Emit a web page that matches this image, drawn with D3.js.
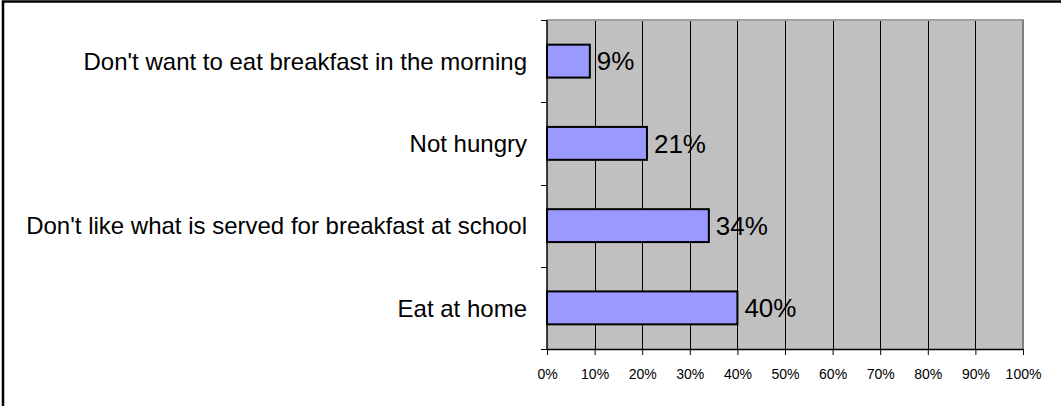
<!DOCTYPE html>
<html>
<head>
<meta charset="utf-8">
<script src="https://cdn.jsdelivr.net/npm/d3@7"></script>
<style>
  html, body { margin: 0; padding: 0; background: #fff; }
  svg { display: block; font-family: "Liberation Sans", Arial, sans-serif; }
</style>
</head>
<body>
<svg id="chart" width="1061" height="406"></svg>
<script>
// Reasons for not eating breakfast at school (top to bottom)
const categories = [
  "Don't want to eat breakfast in the morning",
  "Not hungry",
  "Don't like what is served for breakfast at school",
  "Eat at home"
];
const values = [9, 21, 34, 40];
const tickValues = [0, 10, 20, 30, 40, 50, 60, 70, 80, 90, 100];

const svg = d3.select("#chart");
const W = 1061, H = 406;
const plot = { left: 547, right: 1023, top: 20, bottom: 349 };

// Outer frame (runs off the right and bottom edges)
svg.append("rect")
  .attr("x", 3).attr("y", 1.5)
  .attr("width", W + 10).attr("height", H + 10)
  .attr("fill", "#fff").attr("stroke", "#000").attr("stroke-width", 2.5);

const x = d3.scaleLinear().domain([0, 100]).range([plot.left, plot.right]);
const y = d3.scaleBand().domain(categories).range([plot.top, plot.bottom]).paddingInner(0.6).paddingOuter(0.3);
const yEdges = d3.scaleLinear().domain([0, categories.length]).range([plot.top, plot.bottom]);

// Plot background
svg.append("rect")
  .attr("x", plot.left).attr("y", plot.top)
  .attr("width", plot.right - plot.left).attr("height", plot.bottom - plot.top)
  .attr("fill", "#C0C0C0");

// Vertical gridlines
svg.append("g").selectAll("line")
  .data(tickValues.filter(d => d > 0 && d < 100))
  .join("line")
  .attr("x1", d => Math.round(x(d)) + 0.5).attr("x2", d => Math.round(x(d)) + 0.5)
  .attr("y1", plot.top).attr("y2", plot.bottom)
  .attr("stroke", "#000").attr("stroke-width", 1);

// Plot border top / right
svg.append("line")
  .attr("x1", plot.left).attr("x2", plot.right + 1)
  .attr("y1", plot.top).attr("y2", plot.top)
  .attr("stroke", "#a0a0a0").attr("stroke-width", 2);
svg.append("line")
  .attr("x1", plot.right).attr("x2", plot.right)
  .attr("y1", plot.top).attr("y2", plot.bottom)
  .attr("stroke", "#808080").attr("stroke-width", 2);

// Bars
svg.append("g").selectAll("rect")
  .data(values)
  .join("rect")
  .attr("x", plot.left)
  .attr("y", (d, i) => y(categories[i]))
  .attr("width", d => x(d) - plot.left)
  .attr("height", y.bandwidth())
  .attr("fill", "#9999FF")
  .attr("stroke", "#000").attr("stroke-width", 2);

// Value labels
svg.append("g").selectAll("text")
  .data(values)
  .join("text")
  .attr("x", d => x(d) + 7)
  .attr("y", (d, i) => y(categories[i]) + y.bandwidth() / 2)
  .attr("dy", "0.36em")
  .attr("font-size", 26)
  .attr("fill", "#000")
  .text(d => d + "%");

// Category axis (left) with ticks at band edges
svg.append("line")
  .attr("x1", plot.left).attr("x2", plot.left)
  .attr("y1", plot.top).attr("y2", plot.bottom + 1)
  .attr("stroke", "#000").attr("stroke-width", 1.5);
svg.append("g").selectAll("line")
  .data(d3.range(categories.length + 1))
  .join("line")
  .attr("x1", plot.left - 6).attr("x2", plot.left)
  .attr("y1", d => Math.round(yEdges(d)) + 0.5).attr("y2", d => Math.round(yEdges(d)) + 0.5)
  .attr("stroke", "#000").attr("stroke-width", 1);
svg.append("g").selectAll("text")
  .data(categories)
  .join("text")
  .attr("x", plot.left - 20)
  .attr("y", d => y(d) + y.bandwidth() / 2)
  .attr("dy", "0.36em")
  .attr("text-anchor", "end")
  .attr("font-size", 24)
  .attr("fill", "#000")
  .text(d => d);

// Value axis (bottom)
const xAxis = d3.axisBottom(x)
  .tickValues(tickValues)
  .tickFormat(d => d + "%")
  .tickSize(6)
  .tickPadding(14);
const gx = svg.append("g")
  .attr("transform", `translate(0,${plot.bottom})`)
  .call(xAxis);
gx.select(".domain").attr("stroke", "#000").attr("stroke-width", 1.5).attr("d", `M${plot.left},0.5H${plot.right}`);
gx.selectAll(".tick line").attr("stroke", "#000");
gx.selectAll(".tick text")
  .attr("font-size", 14)
  .attr("font-family", "Liberation Sans, Arial, sans-serif")
  .attr("fill", "#000");
</script>
</body>
</html>
